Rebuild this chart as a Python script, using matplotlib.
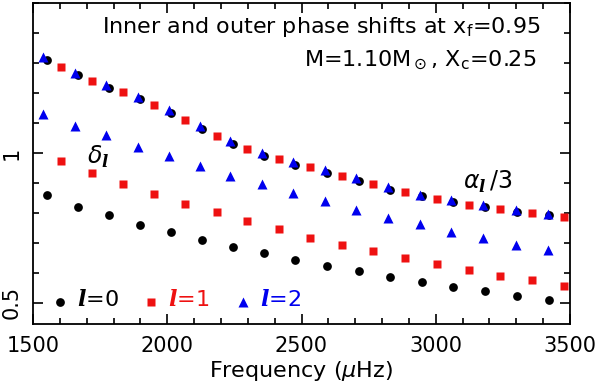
import matplotlib.pyplot as plt
import numpy as np

# frequencies (muHz) for each degree
nu_l0 = [1552, 1666, 1782, 1900, 2014, 2128, 2245, 2359, 2477, 2595, 2713, 2830, 2949, 3065, 3183, 3303, 3421]
nu_l1 = [1604, 1721, 1836, 1952, 2067, 2184, 2298, 2416, 2533, 2651, 2767, 2885, 3004, 3123, 3240, 3360, 3479]
nu_l2 = [1538, 1658, 1773, 1890, 2005, 2121, 2234, 2353, 2469, 2587, 2703, 2823, 2941, 3058, 3177, 3298, 3417]

# outer phase shift alpha_l / 3
alpha_l0 = [1.310, 1.260, 1.217, 1.181, 1.135, 1.080, 1.029, 0.991, 0.961, 0.933, 0.907, 0.877, 0.856, 0.836, 0.819, 0.803, 0.792]
alpha_l1 = [1.287, 1.241, 1.202, 1.161, 1.111, 1.057, 1.015, 0.979, 0.954, 0.924, 0.896, 0.869, 0.848, 0.828, 0.813, 0.799, 0.788]
alpha_l2 = [1.319, 1.267, 1.226, 1.187, 1.143, 1.090, 1.039, 1.000, 0.970, 0.943, 0.915, 0.885, 0.861, 0.843, 0.825, 0.810, 0.798]

# inner phase shift delta_l
delta_l0 = [0.859, 0.821, 0.794, 0.761, 0.737, 0.710, 0.686, 0.667, 0.643, 0.624, 0.605, 0.587, 0.571, 0.553, 0.541, 0.524, 0.511]
delta_l1 = [0.972, 0.932, 0.896, 0.864, 0.830, 0.802, 0.772, 0.746, 0.718, 0.694, 0.674, 0.650, 0.631, 0.611, 0.591, 0.575, 0.558]
delta_l2 = [1.131, 1.089, 1.060, 1.020, 0.990, 0.957, 0.924, 0.896, 0.865, 0.840, 0.810, 0.784, 0.762, 0.737, 0.716, 0.694, 0.675]

plt.rcParams['font.family'] = 'DejaVu Sans'
plt.rcParams['mathtext.fontset'] = 'custom'
plt.rcParams['mathtext.rm'] = 'DejaVu Sans'
plt.rcParams['mathtext.it'] = 'DejaVu Sans:italic'
plt.rcParams['mathtext.bf'] = 'DejaVu Sans:bold'
plt.rcParams['mathtext.bfit'] = 'DejaVu Serif:italic:bold'

red = '#ee1111'
blue = '#0000ee'

fig = plt.figure(figsize=(6, 3.87), dpi=100)
ax = fig.add_axes([0.055, 0.163, 0.895, 0.829])

ms0, ms1, ms2 = 6.3, 5.3, 7.6
ax.plot(nu_l0, alpha_l0, 'o', color='black', ms=ms0, mec='none')
ax.plot(nu_l0, delta_l0, 'o', color='black', ms=ms0, mec='none')
ax.plot(nu_l1, alpha_l1, 's', color=red, ms=ms1, mec='none')
ax.plot(nu_l1, delta_l1, 's', color=red, ms=ms1, mec='none')
ax.plot(nu_l2, alpha_l2, '^', color=blue, ms=ms2, mec='none')
ax.plot(nu_l2, delta_l2, '^', color=blue, ms=ms2, mec='none')

ax.set_xlim(1500, 3500)
ax.set_ylim(0.43, 1.5)
ax.set_xticks([1500, 2000, 2500, 3000, 3500])
ax.set_xticks(np.arange(1500, 3501, 100), minor=True)
ax.set_yticks([0.5, 1.0])
ax.set_yticklabels(['0.5', '1'], rotation=90, va='center')
ax.set_yticks(np.arange(0.5, 1.51, 0.1), minor=True)
ax.tick_params(which='both', direction='in', top=True, right=True, width=1.2, labelsize=15)
ax.tick_params(which='major', length=7)
ax.tick_params(which='minor', length=4.5)
ax.tick_params(axis='x', pad=9)
ax.tick_params(axis='y', pad=8)
for s in ax.spines.values():
    s.set_linewidth(1.3)

ax.set_xlabel(r'Frequency ($\mu$Hz)', fontsize=16, labelpad=2)

ax.text(0.945, 0.925, r'Inner and outer phase shifts at x$_\mathrm{f}$=0.95', transform=ax.transAxes,
        ha='right', va='center', fontsize=16)
ax.text(0.938, 0.82, r'M=1.10M$_\odot$, X$_\mathrm{c}$=0.25', transform=ax.transAxes,
        ha='right', va='center', fontsize=16)
ax.text(1700, 0.986, r'$\delta_{\mathbfit{l}}$', fontsize=17, va='center')
ax.text(3100, 0.903, r'$\alpha_{\mathbfit{l}}\,/3$', fontsize=17, va='center')

# legend along the bottom
ax.plot(1599, 0.504, 'o', color='black', ms=ms0, mec='none')
ax.text(1664, 0.51, r'$\mathbfit{l}$=0', color='black', fontsize=16, va='center')
ax.plot(1939, 0.504, 's', color=red, ms=ms1, mec='none')
ax.text(2003, 0.51, r'$\mathbfit{l}$=1', color=red, fontsize=16, va='center')
ax.plot(2282, 0.504, '^', color=blue, ms=ms2, mec='none')
ax.text(2345, 0.51, r'$\mathbfit{l}$=2', color=blue, fontsize=16, va='center')

fig.savefig('out.png', dpi=100)
